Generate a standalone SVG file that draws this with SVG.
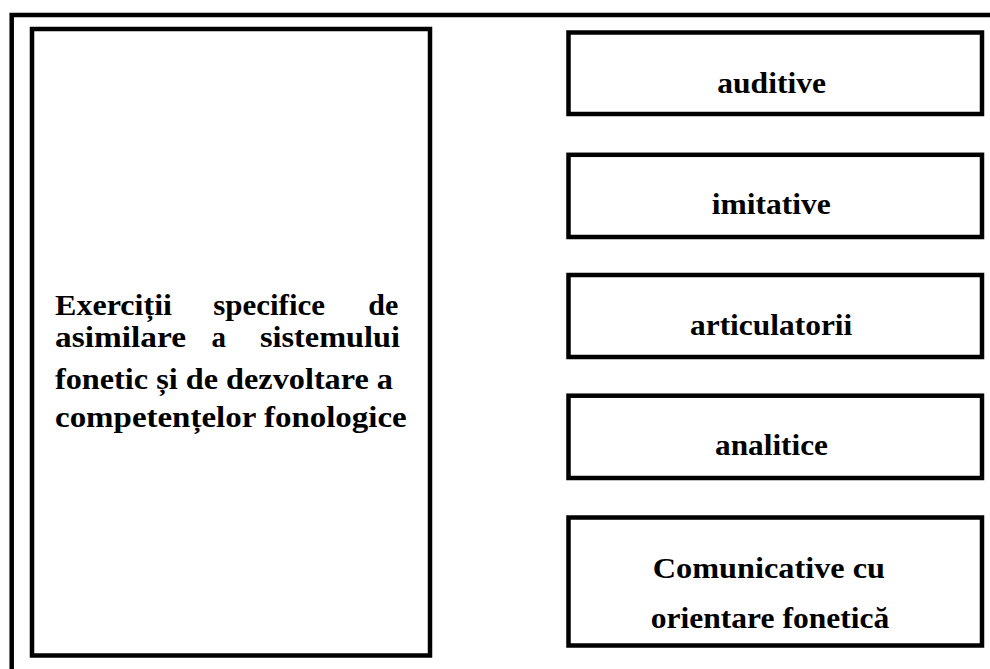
<svg xmlns="http://www.w3.org/2000/svg" width="990" height="669" viewBox="0 0 990 669">
  <style>
    .frame { fill: none; stroke: #000; stroke-width: 4.5; }
    .box { fill: #fff; stroke: #000; stroke-width: 4.5; }
    text { font-family: "Liberation Serif", "Liberation Sans", serif; font-weight: bold; font-size: 29px; fill: #000; }
  </style>
  <rect width="990" height="669" fill="#fff"/>

  <!-- open outer frame: top and left edges only -->
  <path class="frame" d="M11.7 669 V15 H990"/>

  <!-- main category box (justified first two lines) -->
  <g id="node-main">
    <rect class="box" x="32" y="29" width="398" height="626.5"/>
    <text x="55" y="315" textLength="117" lengthAdjust="spacingAndGlyphs">Exerciții</text>
    <text x="213.3" y="315" textLength="111.7" lengthAdjust="spacingAndGlyphs">specifice</text>
    <text x="368.3" y="315" textLength="30" lengthAdjust="spacingAndGlyphs">de</text>
    <text x="55" y="346.7" textLength="131" lengthAdjust="spacingAndGlyphs">asimilare</text>
    <text x="211.5" y="346.7">a</text>
    <text x="260" y="346.7" textLength="140" lengthAdjust="spacingAndGlyphs">sistemului</text>
    <text x="55" y="389.3" textLength="338" lengthAdjust="spacingAndGlyphs">fonetic și de dezvoltare a</text>
    <text x="55" y="426.7" textLength="351.7" lengthAdjust="spacingAndGlyphs">competențelor fonologice</text>
  </g>

  <!-- exercise types -->
  <g id="node-auditive">
    <rect class="box" x="568.5" y="32.5" width="413.5" height="81.5"/>
    <text x="717.3" y="93.3" textLength="108.7" lengthAdjust="spacingAndGlyphs">auditive</text>
  </g>
  <g id="node-imitative">
    <rect class="box" x="568.5" y="154.8" width="413.5" height="82.2"/>
    <text x="711.7" y="214" textLength="119" lengthAdjust="spacingAndGlyphs">imitative</text>
  </g>
  <g id="node-articulatorii">
    <rect class="box" x="568.5" y="275" width="413.5" height="82"/>
    <text x="690" y="335" textLength="162.3" lengthAdjust="spacingAndGlyphs">articulatorii</text>
  </g>
  <g id="node-analitice">
    <rect class="box" x="568.5" y="395.7" width="413.5" height="82.3"/>
    <text x="715" y="455" textLength="113" lengthAdjust="spacingAndGlyphs">analitice</text>
  </g>
  <g id="node-comunicative">
    <rect class="box" x="568.5" y="517.5" width="413.5" height="128"/>
    <text x="652.7" y="578.3" textLength="232.3" lengthAdjust="spacingAndGlyphs">Comunicative cu</text>
    <text x="650.7" y="628.3" textLength="238.6" lengthAdjust="spacingAndGlyphs">orientare fonetică</text>
  </g>

  <g id="connectors"></g>
</svg>
